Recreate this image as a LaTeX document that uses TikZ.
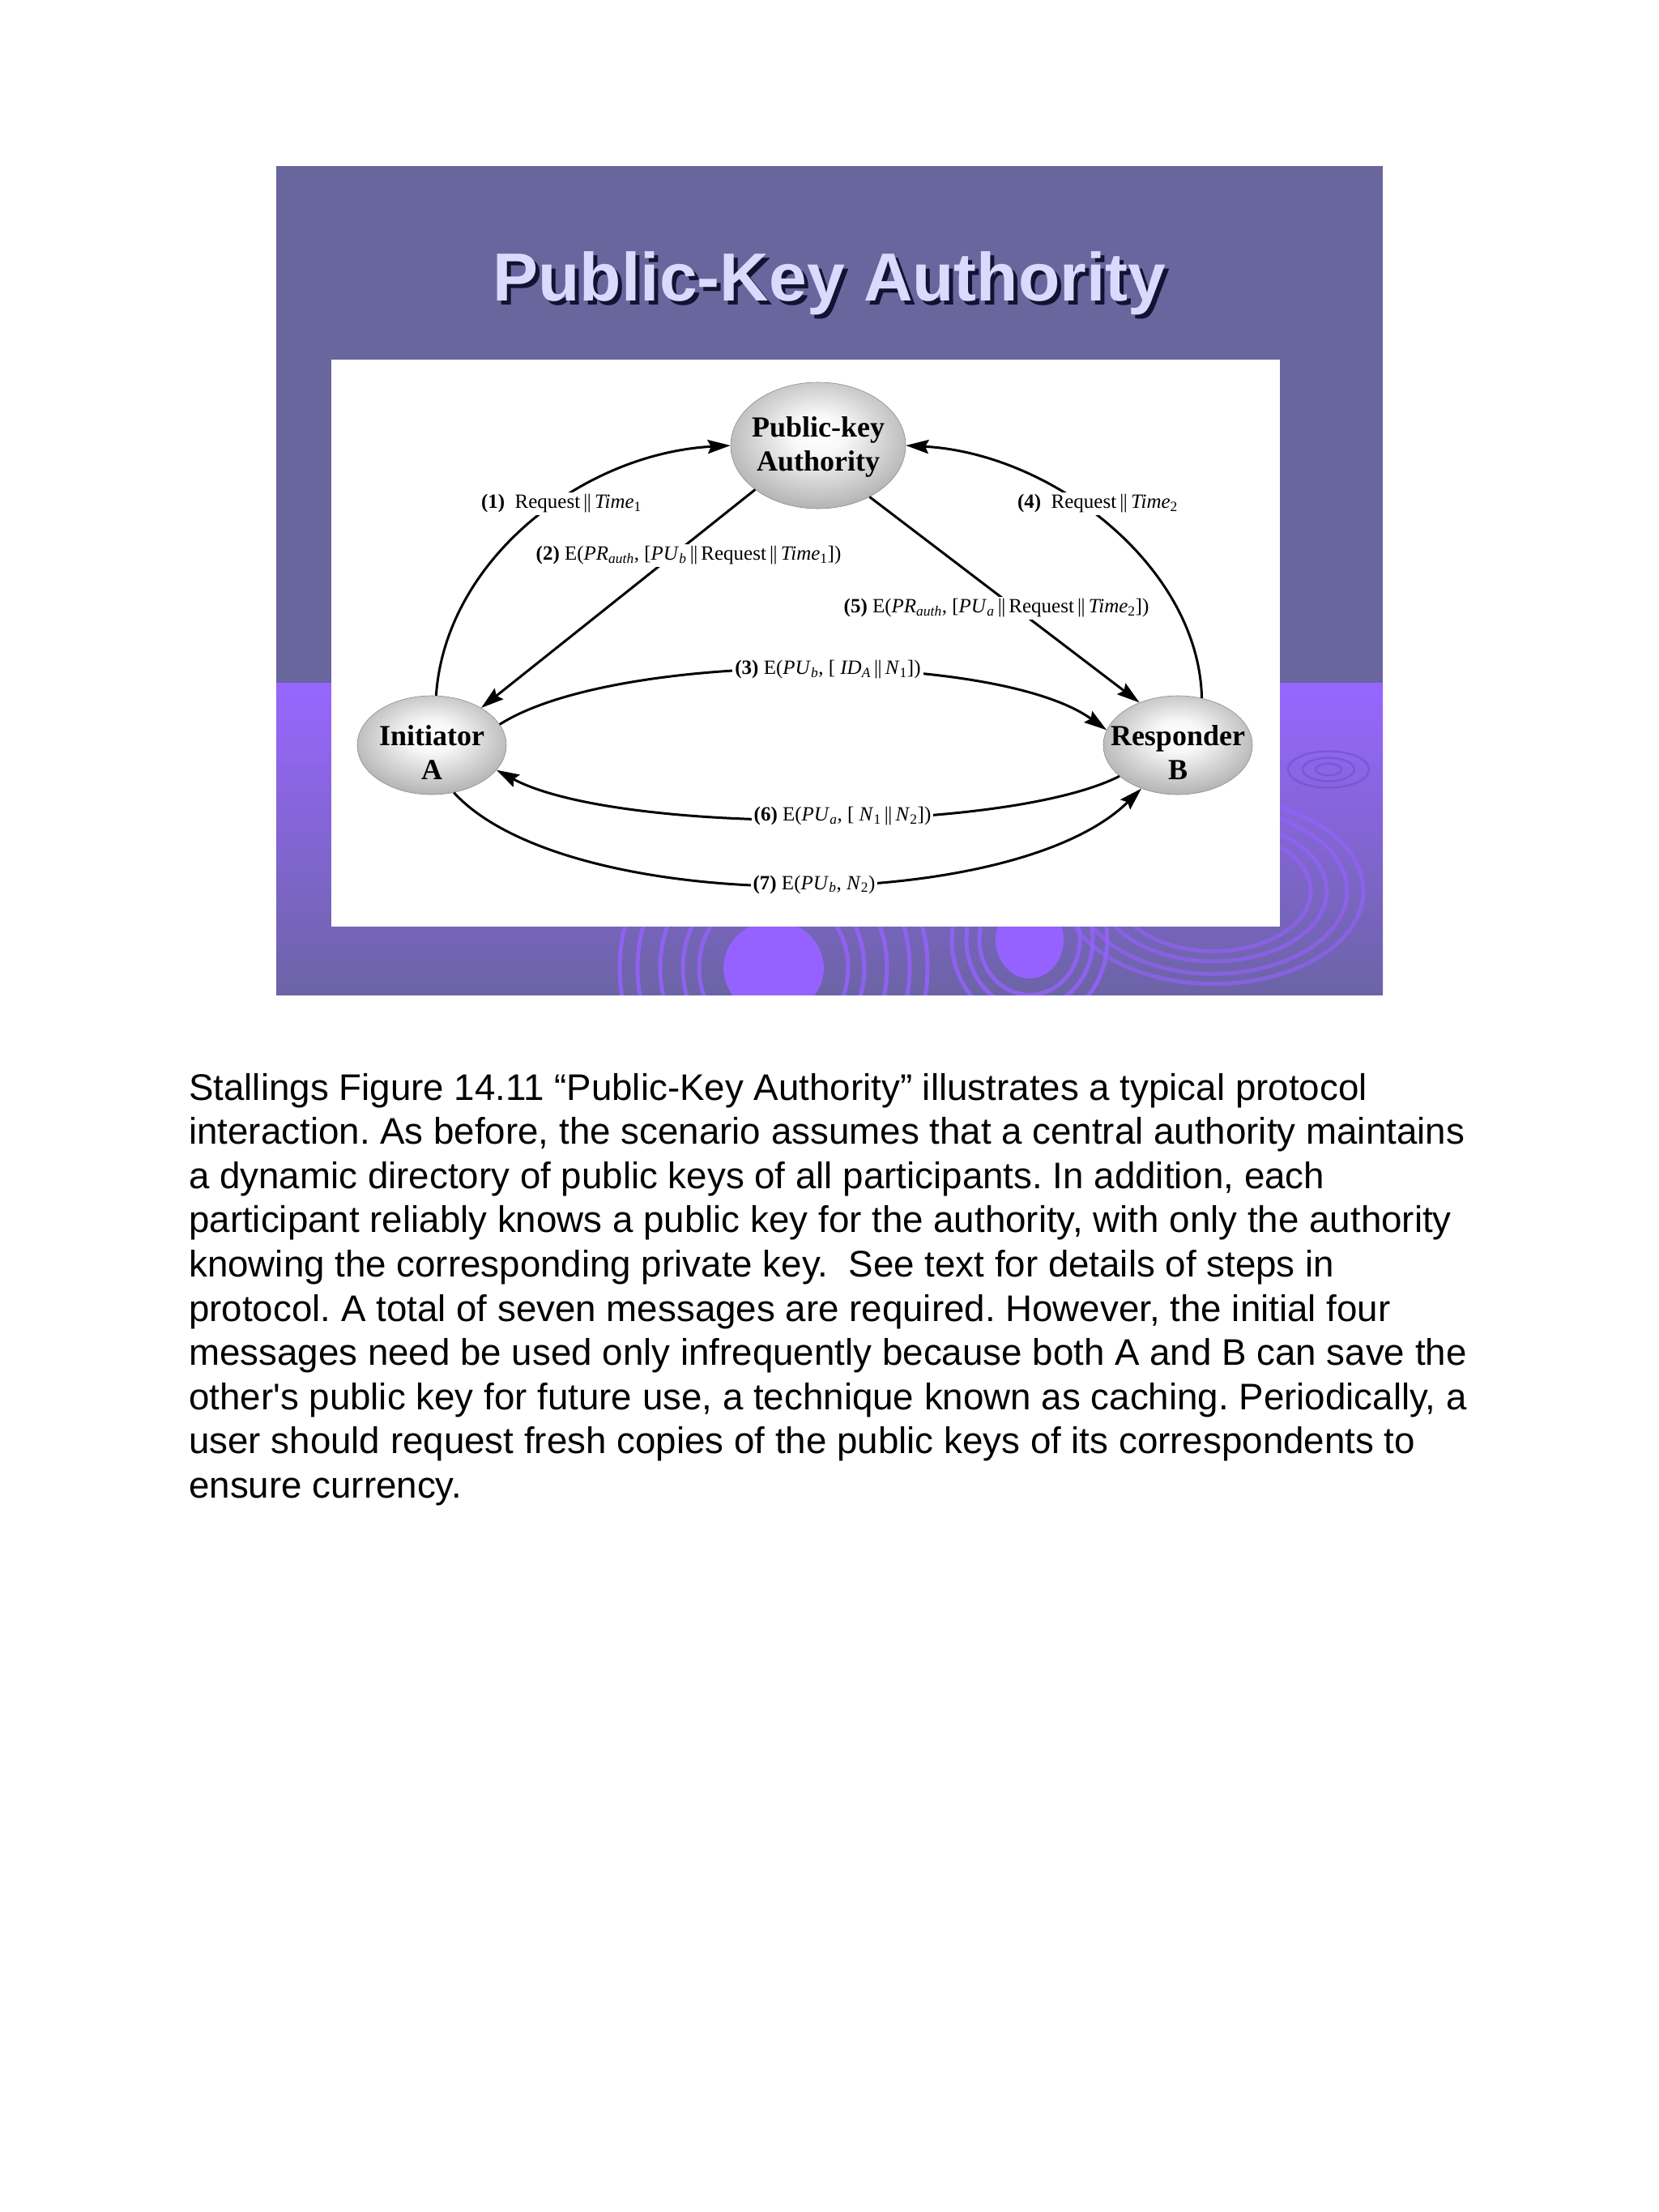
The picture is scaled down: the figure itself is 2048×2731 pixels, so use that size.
\documentclass[tikz,border=0pt]{standalone}
\usepackage{fontspec}
\setmainfont{Liberation Serif}
\newfontfamily\arialfont{Liberation Sans}
\usetikzlibrary{arrows.meta,shapes.geometric}

\definecolor{slate}{RGB}{104,102,156}
\definecolor{bandtop}{RGB}{152,102,255}
\definecolor{bandbot}{RGB}{108,100,166}
\definecolor{ringcol}{RGB}{150,98,255}
\definecolor{ringdark}{RGB}{120,84,210}
\definecolor{titlecol}{RGB}{218,218,255}
\definecolor{titleshadow}{RGB}{20,18,50}

\pgfdeclareradialshading{ballshade}{\pgfpoint{0bp}{5bp}}{color(0bp)=(white); color(8bp)=(white!97!black); color(26bp)=(black!27); color(42bp)=(black!50); color(50bp)=(black!60); color(70bp)=(black!60)}

\newcommand{\pll}{\,\textbar\kern-0.5pt\textbar\,}

\tikzset{
  ballshape/.style={ellipse, shade, shading=ballshade, draw=black!45, line width=0.6pt, inner sep=0pt},
  balltext/.style={align=center, inner sep=0pt, font=\fontsize{36}{42}\selectfont\bfseries},
  lbl/.style={fill=white, inner sep=3pt, font=\fontsize{25}{29}\selectfont},
  conn/.style={line width=3pt, -{Stealth[length=28pt,width=17pt,inset=4pt]}},
  ringline/.style={draw=ringcol, line width=5pt},
  para/.style={anchor=base west, inner sep=0pt, font=\arialfont\fontsize{45.7}{52}\selectfont},
  titlefont/.style={anchor=base, inner sep=0pt, font=\arialfont\bfseries\fontsize{84}{100}\selectfont},
}

\begin{document}
\frenchspacing
\begin{tikzpicture}[x=1pt,y=-1pt]
\useasboundingbox (0,0) rectangle (2048,2731);
\fill[white] (0,0) rectangle (2048,2731);

% slide background
\fill[slate] (341,205) rectangle (1707,843);
\shade[top color=bandtop, bottom color=bandbot] (341,843) rectangle (1707,1228);

% ripples
\begin{scope}
\clip (341,843) rectangle (1707,1228);
\fill[ringcol] (955,1195) ellipse [x radius=62, y radius=58];
\foreach \r in {92,112,140,168,190}{
  \draw[ringline, opacity=0.8] (955,1195) ellipse [x radius=\r, y radius=1.05*\r];
}
\fill[ringcol] (1271,1160) ellipse [x radius=42, y radius=48];
\foreach \r in {62,78,96}{
  \draw[ringline, opacity=0.8] (1271,1160) ellipse [x radius=\r, y radius=1.1*\r];
}
\foreach \r in {120,140,165,185}{
  \draw[ringline, opacity=0.6] (1498,1100) ellipse [x radius=\r, y radius=0.62*\r];
}
\foreach \r in {16,32,50}{
  \draw[draw=ringdark, line width=2.5pt, opacity=0.8] (1640,950) ellipse [x radius=\r, y radius=0.45*\r];
}
\end{scope}

% title
\node[titlefont, text=titleshadow] (titleshadow) at (1029,376) {Public-Key Authority};
\node[titlefont, text=titlecol] (title) at (1024,371) {Public-Key Authority};

% white figure box
\fill[white] (409,444) rectangle (1580,1144);

% nodes
\node[ballshape, minimum width=216pt, minimum height=156pt] (PKA) at (1010,550) {};
\node[ballshape, minimum width=184pt, minimum height=122pt] (A) at (533,920) {};
\node[ballshape, minimum width=184pt, minimum height=122pt] (B) at (1454,920) {};
\node[balltext] (PKAt) at (1010,552) {Public-key\\Authority};
\node[balltext] (At) at (533,929) {Initiator\\A};
\node[balltext] (Bt) at (1454,929) {Responder\\B};

% connectors
\draw[conn] (A.85) .. controls (550,690) and (720,560) .. (PKA.180);
\draw[conn] (B.63) .. controls (1480,700) and (1300,560) .. (PKA.0);
\draw[conn] (PKA.215) -- (A.37);
\draw[conn] (PKA.-45) -- (B.132);
\draw[conn] (A.17) .. controls (760,803) and (1230,803) .. (B.168);
\draw[conn] (B.208) .. controls (1240,1030) and (760,1030) .. (A.-21);
\draw[conn] (A.-65) .. controls (700,1131) and (1250,1131) .. (B.230);

% labels
\node[lbl] (l1) at (693,622) {\textbf{(1)}\ \ Request\pll\textit{Time}\textsubscript{1}};
\node[lbl] (l4) at (1355,622) {\textbf{(4)}\ \ Request\pll\textit{Time}\textsubscript{2}};
\node[lbl] (l2) at (850,686) {\textbf{(2)} E(\textit{PR}\textsubscript{\textit{auth}}, [\textit{PU}\textsubscript{\textit{b}}\pll Request\pll\textit{Time}\textsubscript{1}])};
\node[lbl] (l5) at (1230,751) {\textbf{(5)} E(\textit{PR}\textsubscript{\textit{auth}}, [\textit{PU}\textsubscript{\textit{a}}\pll Request\pll\textit{Time}\textsubscript{2}])};
\node[lbl] (l3) at (1022,827) {\textbf{(3)} E(\textit{PU}\textsubscript{\textit{b}}, [ \textit{ID}\textsubscript{\textit{A}}\pll\textit{N}\textsubscript{1}])};
\node[lbl] (l6) at (1040,1008) {\textbf{(6)} E(\textit{PU}\textsubscript{\textit{a}}, [ \textit{N}\textsubscript{1}\pll\textit{N}\textsubscript{2}])};
\node[lbl] (l7) at (1005,1092) {\textbf{(7)} E(\textit{PU}\textsubscript{\textit{b}}, \textit{N}\textsubscript{2})};

% paragraph
\foreach \t [count=\i from 0] in {
  {Stallings Figure 14.11 “Public-Key Authority” illustrates a typical protocol},
  {interaction. As before, the scenario assumes that a central authority maintains},
  {a dynamic directory of public keys of all participants. In addition, each},
  {participant reliably knows a public key for the authority, with only the authority},
  {knowing the corresponding private key.\ \ See text for details of steps in},
  {protocol. A total of seven messages are required. However, the initial four},
  {messages need be used only infrequently because both A and B can save the},
  {other's public key for future use, a technique known as caching. Periodically, a},
  {user should request fresh copies of the public keys of its correspondents to},
  {ensure currency.}}{
  \node[para] (p\i) at (233,1358+54.6*\i) {\t};
}
\end{tikzpicture}
\end{document}
